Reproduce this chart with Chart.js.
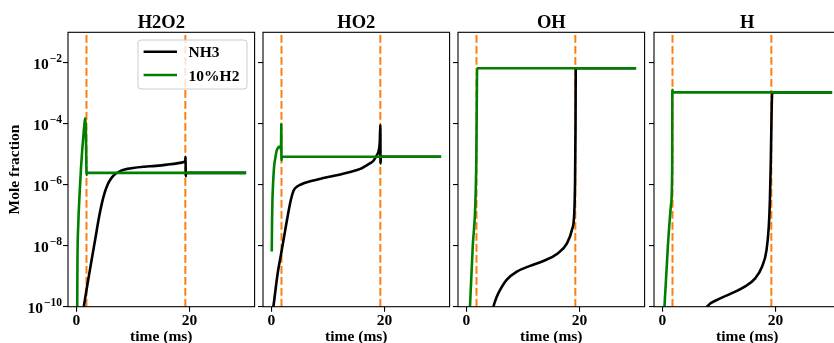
<!DOCTYPE html>
<html>
<head>
<meta charset="utf-8">
<title>Mole fraction profiles</title>
<script src="https://cdn.jsdelivr.net/npm/chart.js@4.4.1/dist/chart.umd.min.js"></script>
<style>
  html, body { margin:0; padding:0; background:#fff; }
  body { position:relative; width:834px; height:343px; overflow:hidden; }
  canvas { position:absolute; top:0; }
</style>
</head>
<body>
<script>
// ---------------- data ----------------
const species = ['H2O2', 'HO2', 'OH', 'H'];
const seriesLabels = ['NH3', '10%H2'];
const xTickValues = [0, 20];
const yTickValues = [1e-10, 1e-8, 1e-6, 1e-4, 1e-2];
const markerTimes = [1.77, 19.25];

// H2O2
const h2o2_nh3_t = [1.15, 1.3, 2.0, 2.6, 3.3, 4.0, 4.5, 5.0, 5.5, 6.0, 6.5, 7.0, 8.0, 9.0, 10.0, 12.0, 14.0, 16.0, 18.0, 19.0, 19.25, 19.3, 19.32, 19.36, 30];
const h2o2_nh3_y = [6.3e-11, 1e-10, 6.3e-10, 2.8e-9, 1.58e-8, 8.9e-8, 2.5e-7, 5.6e-7, 1e-6, 1.48e-6, 1.95e-6, 2.34e-6, 2.95e-6, 3.31e-6, 3.55e-6, 3.89e-6, 4.17e-6, 4.57e-6, 5.13e-6, 5.62e-6, 6.3e-6, 8.3e-6, 1.86e-6, 2.45e-6, 2.45e-6];
const h2o2_h2_t = [0.12, 0.17, 0.32, 0.55, 0.8, 1.0, 1.26, 1.45, 1.56, 1.64, 1.72, 1.79, 1.85, 30];
const h2o2_h2_y = [3.2e-11, 2.5e-9, 5e-8, 5e-7, 3.5e-6, 1.26e-5, 5e-5, 1.2e-4, 1.51e-4, 7.9e-5, 1e-5, 2.1e-6, 2.45e-6, 2.45e-6];

// HO2
const ho2_nh3_t = [0.2, 0.3, 1.06, 1.77, 2.54, 3.42, 3.9, 4.3, 5.2, 7.0, 8.7, 10.5, 12.0, 13.9, 15.7, 16.5, 17.4, 18.0, 18.6, 19.0, 19.15, 19.25, 19.28, 19.35, 30];
const ho2_nh3_y = [7.1e-11, 9.1e-11, 1.12e-9, 6.3e-9, 4.27e-8, 3.16e-7, 6.3e-7, 8.1e-7, 1.02e-6, 1.32e-6, 1.58e-6, 1.86e-6, 2.14e-6, 2.63e-6, 3.31e-6, 3.98e-6, 5.0e-6, 6.0e-6, 9.1e-6, 1.41e-5, 2.5e-5, 9.1e-5, 5.0e-6, 8.3e-6, 8.3e-6];
const ho2_h2_t = [0.05, 0.1, 0.17, 0.3, 0.47, 0.7, 0.88, 1.18, 1.47, 1.55, 1.68, 1.74, 1.76, 1.85, 30];
const ho2_h2_y = [6.5e-9, 6.3e-8, 3.16e-7, 1.26e-6, 4e-6, 7.9e-6, 1.23e-5, 1.66e-5, 1.78e-5, 1.74e-5, 1.41e-5, 1e-4, 6.3e-6, 8.3e-6, 8.3e-6];

// OH
const oh_nh3_t = [4.6, 4.76, 5.3, 5.94, 7.1, 8.9, 11.26, 13.6, 16.0, 17.77, 18.65, 19.06, 19.2, 19.28, 19.33, 30];
const oh_nh3_y = [7.1e-11, 1e-10, 2e-10, 3.55e-10, 7.6e-10, 1.41e-9, 2.19e-9, 3.16e-9, 5.37e-9, 1.2e-8, 3.31e-8, 1.17e-7, 1.26e-6, 6.3e-5, 6.6e-3, 6.6e-3];
const oh_h2_t = [0.55, 0.62, 1.1, 1.6, 1.75, 1.85, 1.88, 30];
const oh_h2_y = [5e-11, 1e-10, 8.9e-9, 3.55e-7, 1e-5, 2.5e-3, 6.6e-3, 6.6e-3];

// H
const h_nh3_t = [7.2, 7.87, 9.65, 12.0, 14.4, 16.4, 17.6, 18.4, 18.8, 19.0, 19.15, 19.3, 19.4, 30];
const h_nh3_y = [5e-11, 1e-10, 1.66e-10, 2.63e-10, 4.37e-10, 8.5e-10, 2.04e-9, 7.2e-9, 4.27e-8, 3.16e-7, 5e-6, 2.5e-4, 1.07e-3, 1.07e-3];
const h_h2_t = [0.25, 0.35, 0.95, 1.54, 1.72, 1.74, 1.76, 1.82, 30];
const h_h2_y = [4e-11, 1e-10, 9.3e-9, 2.5e-7, 5e-6, 1.3e-3, 1.3e-3, 1.07e-3, 1.07e-3];

// ---------------- drawing ----------------
const FAMILY = "'Liberation Serif', 'Times New Roman', serif";
const panels = [
  { title: species[0], a: [h2o2_nh3_t, h2o2_nh3_y], b: [h2o2_h2_t, h2o2_h2_y] },
  { title: species[1], a: [ho2_nh3_t, ho2_nh3_y], b: [ho2_h2_t, ho2_h2_y] },
  { title: species[2], a: [oh_nh3_t, oh_nh3_y], b: [oh_h2_t, oh_h2_y] },
  { title: species[3], a: [h_nh3_t, h_nh3_y], b: [h_h2_t, h_h2_y] }
];
const canvasLefts = [0, 195, 390, 586];
const CW = 263, CH = 350, AXW = 68, TOP = 32.3, RIGHTPAD = 8.4, XAXH = 43.3;

function pts(t, y) { return t.map((v, k) => ({ x: v, y: y[k] })); }
function vline(t) { return [{ x: t, y: 1e-10 }, { x: t, y: 1e-1 }]; }

const framePlugin = {
  id: 'frame',
  afterDatasetsDraw(chart) {
    const { ctx, chartArea: a } = chart;
    ctx.save();
    ctx.strokeStyle = '#000';
    ctx.lineWidth = 1.1;
    ctx.strokeRect(a.left, a.top, a.right - a.left, a.bottom - a.top);
    ctx.restore();
  }
};

const titlePlugin = {
  id: 'panelTitle',
  afterDraw(chart, args, opts) {
    const { ctx, chartArea: a } = chart;
    ctx.save();
    ctx.font = `bold 18.5px ${FAMILY}`;
    ctx.fillStyle = '#000';
    ctx.textAlign = 'center';
    ctx.textBaseline = 'alphabetic';
    ctx.fillText(opts.text, (a.left + a.right) / 2, 28.3);
    ctx.restore();
  }
};

const yLabelPlugin = {
  id: 'powLabels',
  afterDraw(chart, args, opts) {
    if (!opts.show) return;
    const { ctx } = chart;
    const ys = chart.scales.y;
    ctx.save();
    ctx.fillStyle = '#000';
    ctx.textAlign = 'left';
    ctx.textBaseline = 'alphabetic';
    const xr = 62;
    yTickValues.forEach(v => {
      const y = ys.getPixelForValue(v);
      const e = Math.round(Math.log10(v));
      const base = '10';
      const expo = (e < 0 ? '\u2212' : '') + Math.abs(e);
      ctx.font = `bold 15.5px ${FAMILY}`;
      const wb = ctx.measureText(base).width;
      ctx.font = `bold 11.5px ${FAMILY}`;
      const we = ctx.measureText(expo).width;
      ctx.fillText(expo, xr - we, y - 1.2);
      ctx.font = `bold 15.5px ${FAMILY}`;
      ctx.fillText(base, xr - we - wb - 1, y + 6.3);
    });
    ctx.restore();
  }
};

const legendPlugin = {
  id: 'boxLegend',
  afterDraw(chart, args, opts) {
    if (!opts.show) return;
    const { ctx, chartArea: a } = chart;
    const items = chart.data.datasets.filter(d => d.inLegend);
    const w = 109, h = 49;
    const x0 = a.right - 7.6 - w, y0 = a.top + 7.7;
    ctx.save();
    ctx.beginPath();
    if (ctx.roundRect) ctx.roundRect(x0, y0, w, h, 3); else ctx.rect(x0, y0, w, h);
    ctx.fillStyle = 'rgba(255,255,255,0.8)';
    ctx.fill();
    ctx.strokeStyle = '#cccccc';
    ctx.lineWidth = 1;
    ctx.stroke();
    items.forEach((d, i) => {
      const yy = y0 + 11.7 + i * 23.3;
      ctx.beginPath();
      ctx.moveTo(x0 + 5.6, yy);
      ctx.lineTo(x0 + 39, yy);
      ctx.strokeStyle = d.borderColor;
      ctx.lineWidth = d.borderWidth;
      ctx.stroke();
      ctx.font = `bold 15.5px ${FAMILY}`;
      ctx.fillStyle = '#000';
      ctx.textAlign = 'left';
      ctx.textBaseline = 'alphabetic';
      ctx.fillText(d.label, x0 + 50.6, yy + 5.6);
    });
    ctx.restore();
  }
};

panels.forEach((p, i) => {
  const cv = document.createElement('canvas');
  cv.width = CW; cv.height = CH;
  cv.style.width = CW + 'px'; cv.style.height = CH + 'px';
  cv.style.left = canvasLefts[i] + 'px';
  document.body.appendChild(cv);
  const first = i === 0;
  const curve = { cubicInterpolationMode: 'monotone', borderWidth: 2.6, borderJoinStyle: 'round' };
  const dash = { borderColor: '#ff7f0e', borderWidth: 2, borderDash: [7.7, 3.3], tension: 0, order: 2, inLegend: false };
  new Chart(cv, {
    type: 'line',
    data: {
      datasets: [
        Object.assign({ label: seriesLabels[0], inLegend: true, data: pts(p.a[0], p.a[1]), borderColor: '#000000', order: 1 }, curve),
        Object.assign({ label: seriesLabels[1], inLegend: true, data: pts(p.b[0], p.b[1]), borderColor: '#008000', order: 0 }, curve),
        Object.assign({ label: 't1', data: vline(markerTimes[0]) }, dash),
        Object.assign({ label: 't2', data: vline(markerTimes[1]) }, dash)
      ]
    },
    options: {
      responsive: false,
      animation: false,
      devicePixelRatio: 1,
      layout: { padding: { top: TOP, right: RIGHTPAD, left: 0, bottom: 0 } },
      elements: {
        point: { radius: 0, hoverRadius: 0 },
        line: { tension: 0, borderCapStyle: 'butt', fill: false }
      },
      plugins: {
        legend: { display: false },
        tooltip: { enabled: false },
        title: { display: false },
        panelTitle: { text: p.title },
        powLabels: { show: first },
        boxLegend: { show: first }
      },
      scales: {
        x: {
          type: 'linear', min: -1.5, max: 31.5,
          afterBuildTicks: s => { s.ticks = xTickValues.map(v => ({ value: v })); },
          afterFit: s => { s.height = XAXH; },
          ticks: {
            color: '#000', font: { family: FAMILY, size: 15.5, weight: 'bold' },
            padding: 0, maxRotation: 0, autoSkip: false,
            callback: v => String(v)
          },
          grid: { drawOnChartArea: false, drawTicks: true, tickLength: 5, color: '#000', lineWidth: 1.1 },
          border: { display: false },
          title: {
            display: true, text: 'time (ms)', color: '#000',
            font: { family: FAMILY, size: 15.5, weight: 'bold' },
            padding: { top: 0, bottom: 3.7 }
          }
        },
        y: {
          type: 'logarithmic', min: 1e-10, max: 1e-1,
          afterBuildTicks: s => { s.ticks = yTickValues.map(v => ({ value: v })); },
          afterFit: s => { s.width = AXW; },
          ticks: { callback: () => '', font: { family: FAMILY, size: 15, weight: 'bold' } },
          grid: { drawOnChartArea: false, drawTicks: true, tickLength: 5, color: '#000', lineWidth: 1.1 },
          border: { display: false },
          title: {
            display: first, text: 'Mole fraction', color: '#000',
            font: { family: FAMILY, size: 15.5, weight: 'bold' },
            padding: { top: 5.7, bottom: 0 }
          }
        }
      }
    },
    plugins: [framePlugin, titlePlugin, yLabelPlugin, legendPlugin]
  });
});
</script>
</body>
</html>
